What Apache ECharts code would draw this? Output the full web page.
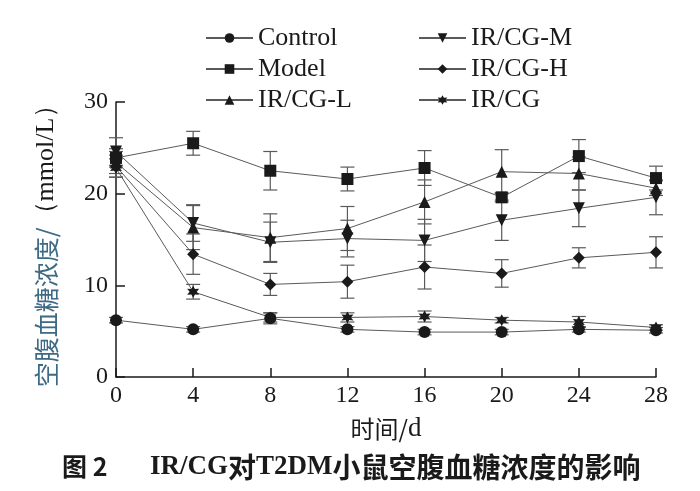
<!DOCTYPE html>
<html><head><meta charset="utf-8">
<script src="https://cdn.jsdelivr.net/npm/echarts@6/dist/echarts.min.js"></script>
<style>html,body{margin:0;padding:0;background:#fff}#c{width:700px;height:491px}</style>
</head><body><div id="c"></div>
<script>
const days = [0, 4, 8, 12, 16, 20, 24, 28];
const yTicks = [0, 10, 20, 30];
const seriesNames = ['Control', 'Model', 'IR/CG-L', 'IR/CG-M', 'IR/CG-H', 'IR/CG'];
const control = [6.2, 5.2, 6.4, 5.2, 4.9, 4.9, 5.2, 5.1];
const controlErr = [0.3, 0.3, 0.6, 0.3, 0.3, 0.3, 0.3, 0.3];
const model = [23.9, 25.5, 22.5, 21.6, 22.8, 19.6, 24.1, 21.7];
const modelErr = [1.0, 1.3, 2.1, 1.3, 1.9, 0.5, 1.8, 1.3];
const irL = [23.4, 16.3, 15.2, 16.2, 19.1, 22.4, 22.2, 20.6];
const irLErr = [1.2, 2.4, 2.6, 2.4, 2.4, 2.4, 1.8, 0.8];
const irM = [24.6, 16.8, 14.7, 15.1, 14.9, 17.1, 18.4, 19.6];
const irMErr = [1.5, 2.0, 2.2, 2.0, 2.3, 2.2, 2.0, 1.9];
const irH = [23.0, 13.4, 10.1, 10.4, 12.0, 11.3, 13.0, 13.6];
const irHErr = [1.2, 2.2, 1.2, 1.8, 2.4, 1.5, 1.1, 1.7];
const irCG = [22.8, 9.3, 6.5, 6.5, 6.6, 6.2, 6.0, 5.4];
const irCGErr = [1.0, 0.8, 0.5, 0.5, 0.6, 0.3, 0.6, 0.3];

const values = [control, model, irL, irM, irH, irCG];
const errs = [controlErr, modelErr, irLErr, irMErr, irHErr, irCGErr];
const starPath = 'path://M0,-10 L2.6,-4.5 L8.7,-5 L5.2,0 L8.7,5 L2.6,4.5 L0,10 L-2.6,4.5 L-8.7,5 L-5.2,0 L-8.7,-5 L-2.6,-4.5 Z';
const symbols = ['circle', 'rect', 'triangle', 'path://M0,0 L10,0 L5,9 Z', 'diamond', starPath];
const sizes = [12, 12, 12, 12, 12, 12];

const chart = echarts.init(document.getElementById('c'), null, {renderer: 'canvas'});
const FONT = '"Liberation Serif", "Times New Roman", serif';
const CJK = '"Noto Sans CJK SC", sans-serif';
const lineColor = '#5a5a5a';

const series = [];
values.forEach((v, i) => {
  series.push({
    name: seriesNames[i], type: 'line',
    data: days.map((d, k) => [d, v[k]]),
    symbol: symbols[i], symbolSize: sizes[i],
    showAllSymbol: true,
    lineStyle: {color: lineColor, width: 1},
    itemStyle: {color: '#1a1a1a'},
    z: 3
  });
  series.push({
    type: 'custom', name: seriesNames[i] + '_err',
    data: days.map((d, k) => [d, v[k] - errs[i][k], v[k] + errs[i][k]]),
    renderItem: function (params, api) {
      const x = api.value(0);
      const lo = api.coord([x, api.value(1)]);
      const hi = api.coord([x, api.value(2)]);
      const w = 7;
      const st = {stroke: lineColor, lineWidth: 1.2};
      return {type: 'group', children: [
        {type: 'line', shape: {x1: lo[0], y1: lo[1], x2: hi[0], y2: hi[1]}, style: st},
        {type: 'line', shape: {x1: lo[0] - w, y1: lo[1], x2: lo[0] + w, y2: lo[1]}, style: st},
        {type: 'line', shape: {x1: hi[0] - w, y1: hi[1], x2: hi[0] + w, y2: hi[1]}, style: st}
      ]};
    },
    z: 2, silent: true
  });
});

const legendCommon = {
  orient: 'vertical', itemWidth: 47, itemHeight: 12, itemGap: 5, padding: 0,
  textStyle: {fontFamily: FONT, fontSize: 26, color: '#1a1a1a', padding: [0, 0, 0, 0]}
};

chart.setOption({
  animation: false,
  backgroundColor: '#fff',
  grid: {left: 116, right: 44, top: 102, bottom: 114},
  legend: [
    Object.assign({}, legendCommon, {left: 205, top: 25, data: seriesNames.slice(0, 3)}),
    Object.assign({}, legendCommon, {left: 418, top: 25, data: seriesNames.slice(3, 6)})
  ],
  xAxis: {
    type: 'value', min: 0, max: 28, interval: 4,
    axisLine: {lineStyle: {color: '#1a1a1a', width: 1.5}},
    axisTick: {inside: true, length: 9, lineStyle: {color: '#1a1a1a', width: 1.5}},
    axisLabel: {fontFamily: FONT, fontSize: 24, color: '#1a1a1a', margin: 7},
    splitLine: {show: false},
    name: '{a|时间/}{b|d}', nameLocation: 'middle', nameGap: 38,
    nameTextStyle: {rich: {
      a: {fontFamily: CJK, fontSize: 24, color: '#1a1a1a'},
      b: {fontFamily: FONT, fontSize: 27, color: '#1a1a1a'}
    }}
  },
  yAxis: {
    type: 'value', min: 0, max: 30, interval: 10,
    axisLine: {show: true, lineStyle: {color: '#1a1a1a', width: 1.5}},
    axisTick: {show: true, inside: true, length: 9, lineStyle: {color: '#1a1a1a', width: 1.5}},
    axisLabel: {fontFamily: FONT, fontSize: 24, color: '#1a1a1a', margin: 8,
      formatter: v => yTicks.includes(v) ? String(v) : ''},
    splitLine: {show: false},
    name: '{a|空腹血糖浓度/}{b|（mmol/L）}', nameLocation: 'middle', nameGap: 57,
    nameTextStyle: {
      rich: {
        a: {fontFamily: CJK, fontSize: 25, color: '#3d6a85'},
        b: {fontFamily: FONT, fontSize: 26, color: '#1a1a1a'}
      }
    }
  },
  graphic: [{
    type: 'text', left: 62, top: 454,
    style: {text: '图 2', font: 'bold 25px ' + CJK, fill: '#1a1a1a'}
  }, {
    type: 'text', left: 150, top: 453,
    style: {
      text: '{l|IR/CG}{c|对}{l|T2DM}{c|小鼠空腹血糖浓度的影响}',
      rich: {
        l: {fontFamily: FONT, fontWeight: 'bold', fontSize: 27, fill: '#1a1a1a'},
        c: {fontFamily: CJK, fontWeight: 'bold', fontSize: 28, fill: '#1a1a1a'}
      }
    }
  }],
  series: series
});
</script></body></html>
